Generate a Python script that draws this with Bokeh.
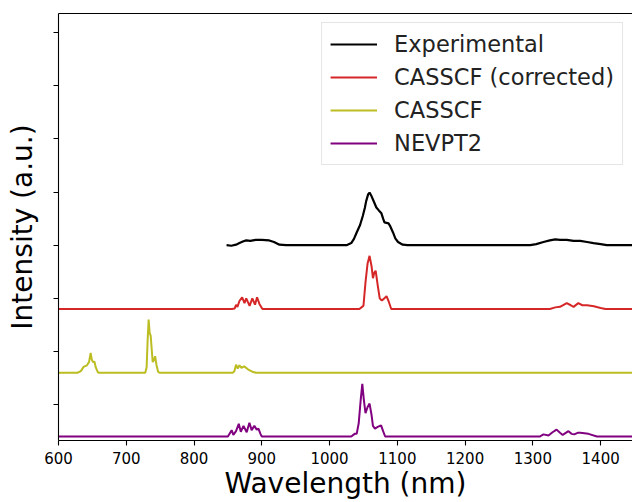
from bokeh.plotting import figure
from bokeh.models import (FixedTicker, LinearAxis, Legend, LegendItem, Range1d,
                          CustomLabelingPolicy)
from bokeh.embed import file_html
from bokeh.resources import INLINE

# Emission spectra, offset vertically (wavelength in nm, intensity in a.u.)
exp_wl = [848, 855, 862, 867, 872, 877, 883, 891, 900, 911, 918, 926, 936, 1025, 1032, 1036,
          1040, 1045, 1049, 1052, 1054, 1057, 1059, 1062, 1064, 1067, 1069, 1073, 1076.5, 1079,
          1081, 1084, 1087, 1089, 1093.6, 1097, 1101, 1108, 1115, 1296, 1305, 1315.6, 1325,
          1333, 1340, 1350, 1360, 1370, 1380, 1389.5, 1400, 1409, 1450]
exp_int = [3.00, 2.99, 3.01, 3.04, 3.07, 3.09, 3.08, 3.10, 3.10, 3.09, 3.06, 3.01, 3.00, 3.00,
           3.04, 3.12, 3.24, 3.38, 3.55, 3.70, 3.83, 3.96, 3.99, 3.92, 3.86, 3.77, 3.71, 3.65,
           3.60, 3.50, 3.43, 3.42, 3.41, 3.37, 3.24, 3.13, 3.06, 3.01, 3.00, 3.00, 3.02, 3.06,
           3.09, 3.11, 3.10, 3.10, 3.08, 3.08, 3.06, 3.04, 3.02, 3.00, 3.00]

cor_wl = [600, 856, 860, 862, 864, 867, 871, 874.5, 877, 882, 886, 890, 893, 896.6, 899, 901,
          1044, 1048, 1050, 1053, 1056, 1059, 1062, 1064, 1066, 1068, 1071, 1074, 1077, 1080,
          1084, 1087, 1091, 1325, 1333, 1340, 1350, 1356, 1360, 1367, 1373, 1380, 1390, 1400,
          1407, 1450]
cor_int = [1.80, 1.80, 1.81, 1.88, 1.84, 1.95, 2.02, 1.91, 2.00, 1.86, 2.00, 1.88, 2.02, 1.89,
           1.84, 1.80, 1.80, 1.84, 1.86, 2.30, 2.65, 2.80, 2.60, 2.38, 2.48, 2.52, 2.25, 2.00,
           1.96, 1.99, 2.04, 1.95, 1.80, 1.80, 1.83, 1.84, 1.91, 1.87, 1.84, 1.91, 1.87, 1.87,
           1.85, 1.82, 1.80, 1.80]

cas_wl = [600, 628, 633, 637, 642, 645, 647.5, 649, 651, 653, 655, 658, 660, 728, 730, 731.5,
          733, 734.5, 736, 737.5, 739, 741, 742.6, 744.5, 747, 749, 857, 859.5, 862, 864.5,
          867, 870, 874, 880, 886, 891.5, 1450]
cas_int = [0.60, 0.60, 0.63, 0.71, 0.74, 0.80, 0.975, 0.85, 0.80, 0.81, 0.70, 0.61, 0.60, 0.60,
           0.70, 1.20, 1.60, 1.35, 1.30, 1.05, 0.80, 0.85, 0.91, 0.75, 0.62, 0.60, 0.60, 0.63,
           0.75, 0.68, 0.74, 0.69, 0.72, 0.66, 0.62, 0.60, 0.60]

nev_wl = [600, 850, 855.5, 858, 862, 866, 869, 873, 877.7, 881.7, 885, 889, 892.5, 895, 898,
          900, 1032, 1037, 1040, 1043, 1046, 1048.3, 1050.5, 1053, 1056, 1059, 1062, 1064, 1067,
          1071, 1076, 1079, 1082, 1310, 1315.6, 1323, 1329, 1335, 1340, 1344, 1352.5, 1357,
          1361, 1366, 1370, 1376, 1382, 1394.5, 1450]
nev_int = [-0.60, -0.60, -0.48, -0.57, -0.50, -0.36, -0.51, -0.40, -0.52, -0.34, -0.48, -0.40,
           -0.47, -0.45, -0.55, -0.60, -0.60, -0.55, -0.55, -0.35, 0.10, 0.39, 0.10, -0.16,
           -0.05, 0.02, -0.20, -0.40, -0.45, -0.42, -0.39, -0.50, -0.60, -0.60, -0.56, -0.58,
           -0.52, -0.47, -0.53, -0.57, -0.50, -0.55, -0.56, -0.53, -0.53, -0.54, -0.55, -0.60,
           -0.60]

x_ticks = [600, 700, 800, 900, 1000, 1100, 1200, 1300, 1400]
y_ticks = [0, 1, 2, 3, 4, 5, 6, 7]

FONT = "DejaVu Sans"

p = figure(width=632, height=502, x_range=Range1d(600, 1447), y_range=Range1d(-0.675, 7.36),
           output_backend="svg", toolbar_location=None,
           min_border_left=58, min_border_right=0, min_border_top=13, min_border_bottom=60)
p.outline_line_color = None
p.xgrid.visible = False
p.ygrid.visible = False
p.background_fill_color = "white"
p.border_fill_color = "white"

r_exp = p.line(exp_wl, exp_int, line_color="black", line_width=2.2)
r_cor = p.line(cor_wl, cor_int, line_color="#d62728", line_width=2)
r_cas = p.line(cas_wl, cas_int, line_color="#bcbd22", line_width=2)
r_nev = p.line(nev_wl, nev_int, line_color="#800080", line_width=2)

for ax in (p.xaxis[0], p.yaxis[0]):
    ax.axis_line_color = "black"
    ax.axis_line_width = 1.1
    ax.major_tick_line_color = "black"
    ax.major_tick_line_width = 1.1
    ax.major_tick_out = 5
    ax.major_tick_in = 0
    ax.minor_tick_out = 0
    ax.minor_tick_in = 0
    ax.major_label_text_font = FONT
    ax.major_label_text_color = "black"
    ax.axis_label_text_font = FONT
    ax.axis_label_text_font_style = "normal"
    ax.axis_label_text_font_size = "28px"
    ax.axis_label_text_color = "black"

p.xaxis.ticker = FixedTicker(ticks=x_ticks)
p.xaxis.major_label_text_font_size = "15px"
p.xaxis.major_label_standoff = 6
p.xaxis.axis_label = "Wavelength (nm)"
p.xaxis.axis_label_standoff = 0

# y ticks carry no labels at all
p.yaxis.ticker = FixedTicker(ticks=y_ticks)
p.yaxis.major_label_policy = CustomLabelingPolicy(code="return false")
p.yaxis.major_label_text_font_size = "0px"
p.yaxis.major_label_standoff = 0
p.yaxis.axis_label = "Intensity (a.u.)"
p.yaxis.axis_label_standoff = 15

# top spine
top = LinearAxis(ticker=FixedTicker(ticks=[]), axis_line_color="black", axis_line_width=1.1,
                 major_tick_out=0, minor_tick_out=0)
p.add_layout(top, "above")

legend = Legend(items=[
    LegendItem(label="Experimental", renderers=[r_exp]),
    LegendItem(label="CASSCF (corrected)", renderers=[r_cor]),
    LegendItem(label="CASSCF", renderers=[r_cas]),
    LegendItem(label="NEVPT2", renderers=[r_nev]),
], location="top_right")
legend.label_text_font = FONT
legend.label_text_font_size = "22.5px"
legend.label_text_color = "#222222"
legend.label_height = 26
legend.glyph_height = 26
legend.glyph_width = 47
legend.label_standoff = 17
legend.spacing = 7
legend.padding = 8
legend.margin = 9
legend.border_line_color = "#cccccc"
legend.border_line_width = 1
legend.background_fill_alpha = 0.8
p.add_layout(legend)

open("out.html", "w").write(file_html(p, INLINE))
